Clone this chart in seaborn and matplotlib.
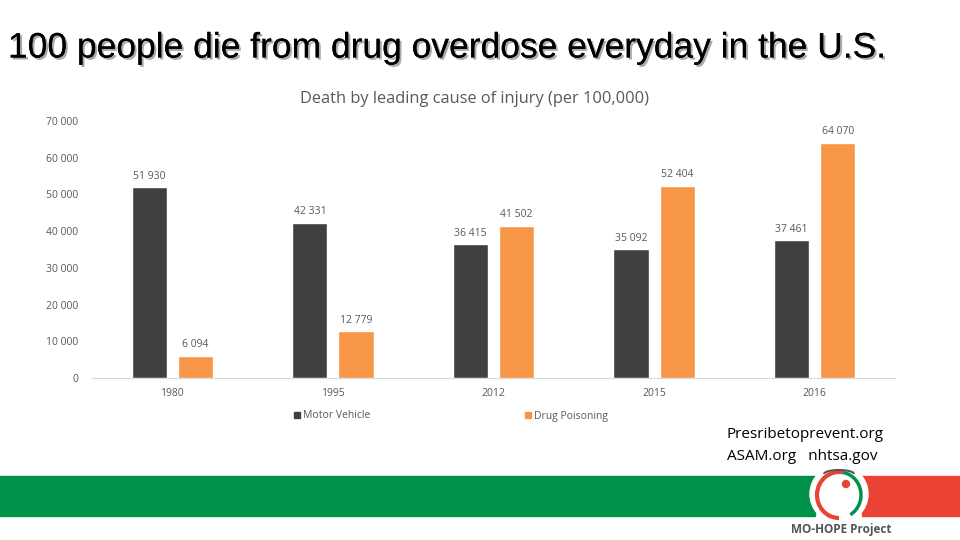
import numpy as np
import pandas as pd
import matplotlib
matplotlib.use("Agg")
import matplotlib.pyplot as plt
import matplotlib.patheffects as pe
from matplotlib.patches import Rectangle, Circle, Arc
import seaborn as sns

# chart data
years = ["1980", "1995", "2012", "2015", "2016"]
motor_vehicle = [51930, 42331, 36415, 35092, 37461]
drug_poisoning = [6094, 12779, 41502, 52404, 64070]
series_names = ["Motor Vehicle", "Drug Poisoning"]
y_ticks = [0, 10000, 20000, 30000, 40000, 50000, 60000, 70000]

df = pd.DataFrame({
    "Year": years * 2,
    "Deaths": motor_vehicle + drug_poisoning,
    "Cause": [series_names[0]] * len(years) + [series_names[1]] * len(years),
})

sns.set_style("white")
plt.rcParams["font.family"] = ["Open Sans", "DejaVu Sans"]

dark = "#404040"
orange = "#F79646"
grey_txt = "#595959"

fig = plt.figure(figsize=(9.6, 5.4), dpi=100)
ax = fig.add_axes([92 / 960, 1 - 378 / 540, 803 / 960, 257 / 540])

sns.barplot(data=df, x="Year", y="Deaths", hue="Cause", order=years,
            hue_order=series_names, palette=[dark, orange],
            width=0.575, gap=0.24, ax=ax, legend=False, saturation=1)

fmt = lambda v: f"{int(v):,}".replace(",", " ")
for cont in ax.containers:
    ax.bar_label(cont, labels=[fmt(b.get_height()) for b in cont],
                 padding=4, fontsize=7.5, color=grey_txt)

ax.set_xlim(-0.5, 4.5)
ax.set_ylim(0, 70000)
ax.set_yticks(y_ticks)
ax.set_yticklabels([fmt(v) for v in y_ticks], fontsize=7.5, color=grey_txt)
ax.set_xlabel("")
ax.set_ylabel("")
ax.set_xticks(np.arange(len(years)))
ax.set_xticklabels(years, fontsize=7.5, color=grey_txt)
ax.tick_params(axis="x", length=0, pad=7)
ax.tick_params(axis="y", length=0, pad=10)
# category boundary ticks
ax.set_xticks(np.arange(-0.5, 5.0, 1.0), minor=True)
ax.tick_params(axis="x", which="minor", length=5, color="#D9D9D9", direction="out")
for s in ["top", "right", "left"]:
    ax.spines[s].set_visible(False)
ax.spines["bottom"].set_color("#D9D9D9")

ax.set_title("Death by leading cause of injury (per 100,000)", fontsize=11.8,
             color=grey_txt, pad=13, x=0.476)

# legend
handles = [Rectangle((0, 0), 1, 1, color=dark), Rectangle((0, 0), 1, 1, color=orange)]
fig.legend(handles, series_names, loc="center", bbox_to_anchor=(451 / 960, 1 - 416 / 540),
           ncol=2, frameon=False, fontsize=7.5, labelcolor=grey_txt,
           handlelength=0.6, handleheight=0.6, handletextpad=0.3, columnspacing=14.8)

# slide title with shadow
fig.text(8 / 960, 1 - 48 / 540, "100 people die from drug overdose everyday in the U.S.",
         fontsize=25.5, family="Liberation Sans", color="black", va="center", ha="left",
         path_effects=[pe.withSimplePatchShadow(offset=(1.5, -1.5), shadow_rgbFace="#888888", alpha=0.7),
                       pe.Normal()])

# sources
fig.text(727 / 960, 1 - 434 / 540, "Presribetoprevent.org", fontsize=11, color="black",
         va="center", ha="left")
fig.text(727 / 960, 1 - 457 / 540, "ASAM.org   nhtsa.gov", fontsize=11, color="black",
         va="center", ha="left")

# footer band and logo
deco = fig.add_axes([0, 0, 1, 1], zorder=-1)
deco.set_xlim(0, 960)
deco.set_ylim(540, 0)
deco.axis("off")
deco.add_patch(Rectangle((0, 476), 815, 40, color="#00924A"))
deco.add_patch(Rectangle((862, 476), 98, 40, color="#EA4335"))
top = fig.add_axes([0, 0, 1, 1], zorder=5)
top.set_xlim(0, 960)
top.set_ylim(540, 0)
top.axis("off")
top.add_patch(Circle((839, 494), 29, color="white"))
top.add_patch(Arc((839, 495), 44, 46, theta1=90, theta2=280, color="#E94335", lw=3))
top.add_patch(Arc((839, 495), 44, 46, theta1=280, theta2=60, color="#00924A", lw=2.5))
top.add_patch(Circle((846, 484), 3.5, color="#E94335"))
top.add_patch(Arc((839, 474), 30, 8, theta1=180, theta2=360, color="#555555", lw=1.5))
top.text(841, 530, "MO-HOPE Project", fontsize=8.5, fontweight="bold", color="#555555",
         ha="center", va="center")

fig.savefig("out.png", dpi=100)
